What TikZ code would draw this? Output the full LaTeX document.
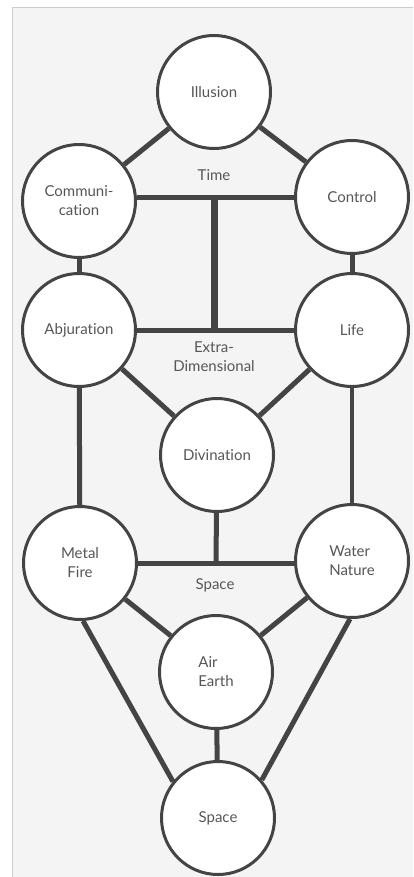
\documentclass[tikz,border=0pt]{standalone}
\usepackage{fontspec}
\setmainfont{Lato}[Ligatures=NoCommon]
\usetikzlibrary{backgrounds}
\definecolor{ink}{HTML}{444444}
\definecolor{paper}{HTML}{F4F4F4}
\tikzset{
  sphere/.style={circle,draw=ink,line width=3pt,fill=white,minimum size=113pt,inner sep=0pt,align=center,text=ink!90,font=\fontsize{15}{19}\selectfont},
  path/.style={draw=ink,line width=5pt},
  axis/.style={draw=ink,line width=7pt},
  realm/.style={text=ink!90,align=center,font=\fontsize{15}{19}\selectfont}
}
\begin{document}
\begin{tikzpicture}[x=1pt,y=-1pt,line join=round]
  \useasboundingbox (0,0) rectangle (413,877);
  % spheres
  \node[sphere] (illusion) at (214,92) {Illusion};
  \node[sphere] (comm) at (79,201) {Communi-\\cation};
  \node[sphere] (control) at (352,197) {Control};
  \node[sphere] (abjur) at (79,330) {Abjuration};
  \node[sphere] (life) at (352,330) {Life};
  \node[sphere] (divin) at (217,455) {Divination};
  \node[sphere] (metal) at (80,563) {Metal\\Fire};
  \node[sphere,align=left] (water) at (352,561) {Water\\Nature};
  \node[sphere,align=left] (air) at (216,672) {Air\\Earth};
  \node[sphere] (space) at (218,818) {Space};
  % realm labels
  \node[realm] (time) at (214,175) {Time};
  \node[realm] (extra) at (214,357) {Extra-\\Dimensional};
  \node[realm] (spc) at (215,585) {Space};
  \coordinate (t) at (214,198);
  \coordinate (e) at (214,330);
  \coordinate (s) at (216,563);
  \begin{scope}[on background layer]
    \fill[paper] (12,7) rectangle (413,877);
    \draw[gray!40,line width=0.8pt] (12,877) -- (12,7) -- (413,7);
    % connectors
    \path[path] (illusion) -- (comm) (illusion) -- (control);
    \path[path] (comm.east |- t) -- (control.west |- t);
    \path[axis] (t) -- (e);
    \path[path] (comm) -- (abjur) (control) -- (life);
    \path[path] (abjur.east |- e) -- (life.west |- e);
    \path[path] (abjur) -- (divin) (life) -- (divin);
    \path[path] (abjur) -- (metal);
    \path[draw=ink,line width=3.5pt] (life) -- (water);
    \path[path] (divin) -- (s);
    \path[path] (metal.east |- s) -- (water.west |- s);
    \path[path] (metal) -- (air) (water) -- (air) (air) -- (space);
    \path[path] (metal.273) -- (space.141) (water.268) -- (space.41);
  \end{scope}
\end{tikzpicture}
\end{document}
